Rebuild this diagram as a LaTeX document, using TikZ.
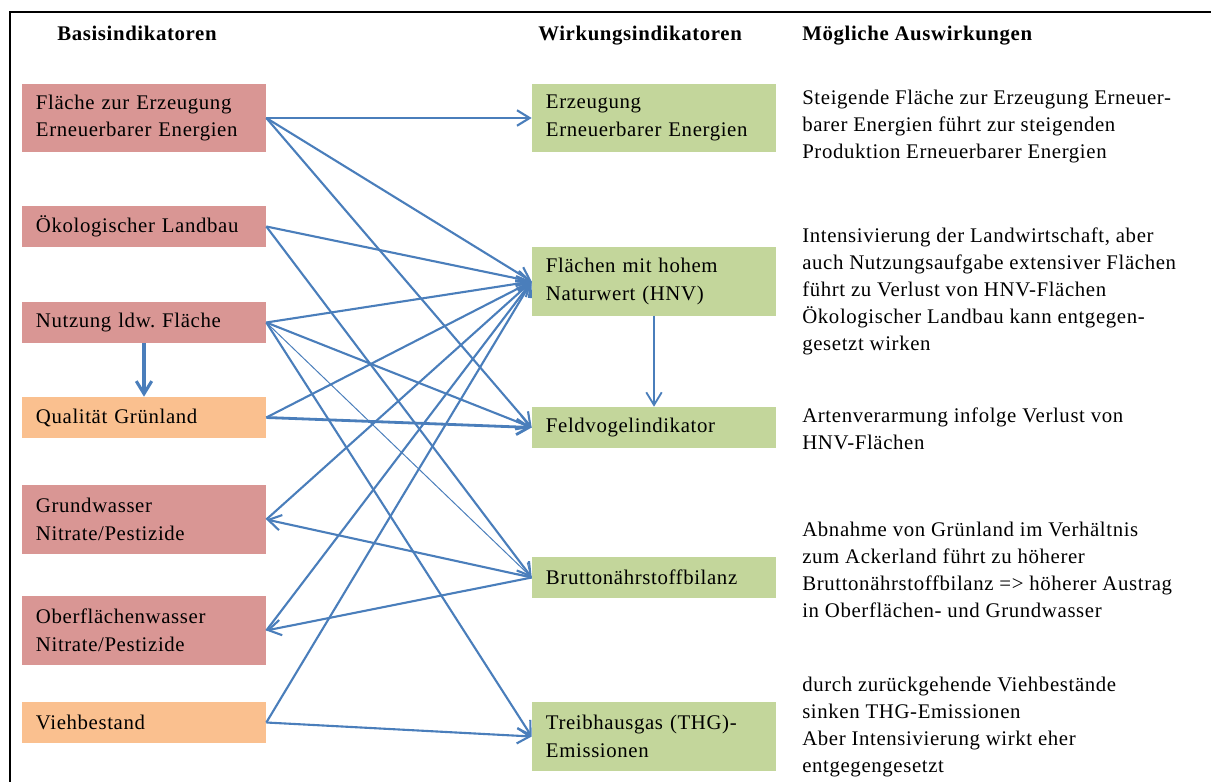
\documentclass[tikz,border=0pt]{standalone}
\usepackage{fontspec}
\setmainfont{Liberation Serif}[LetterSpace=3]
\frenchspacing
\usetikzlibrary{arrows.meta}
\definecolor{rotbox}{RGB}{217,150,148}
\definecolor{orangebox}{RGB}{250,192,143}
\definecolor{gruenbox}{RGB}{195,214,155}
\definecolor{pfeilblau}{RGB}{74,126,187}

\begin{document}
\begin{tikzpicture}[x=0.025cm, y=-0.025cm, >={Straight Barb[length=9pt,width=11pt]},
    kasten/.style={minimum width=6.1cm, text width=5.4cm, align=left, inner xsep=0.35cm,
        inner ysep=0pt, font=\fontsize{14.8}{19.8}\selectfont},
    einzeilig/.style={kasten, minimum height=1.025cm},
    zweizeilig/.style={kasten, minimum height=1.7cm},
    titel/.style={anchor=base west, inner sep=0pt, font=\fontsize{14.8}{19}\selectfont\bfseries},
    erklaerung/.style={anchor=north west, align=left, inner sep=0pt, font=\fontsize{14.8}{19.1}\selectfont},
    pfeil/.style={->, draw=pfeilblau, line width=1.5pt}]
    \useasboundingbox (0,0) rectangle (1211,782);
    \draw[line width=1.4pt] (1211,12) -- (10,12) -- (10,782);

    % Ueberschriften
    \node[titel] (t1) at (57,41) {Basisindikatoren};
    \node[titel] (t2) at (538,41) {Wirkungsindikatoren};
    \node[titel] (t3) at (802,41) {Mögliche Auswirkungen};

    % Basisindikatoren
    \node[zweizeilig, fill=rotbox] (b1) at (144,118) {Fläche zur Erzeugung\\Erneuerbarer Energien};
    \node[einzeilig, fill=rotbox] (b2) at (144,226.5) {Ökologischer Landbau};
    \node[einzeilig, fill=rotbox] (b3) at (144,322.5) {Nutzung ldw. Fläche};
    \node[einzeilig, fill=orangebox] (b4) at (144,417.5) {Qualität Grünland};
    \node[zweizeilig, fill=rotbox] (b5) at (144,519.5) {Grundwasser\\Nitrate/Pestizide};
    \node[zweizeilig, fill=rotbox] (b6) at (144,630.5) {Oberflächenwasser\\Nitrate/Pestizide};
    \node[einzeilig, fill=orangebox] (b7) at (144,722.5) {Viehbestand};

    % Wirkungsindikatoren
    \node[zweizeilig, fill=gruenbox] (w1) at (654,118) {Erzeugung\\Erneuerbarer Energien};
    \node[zweizeilig, fill=gruenbox] (w2) at (654,281.5) {Flächen mit hohem\\Naturwert (HNV)};
    \node[einzeilig, fill=gruenbox] (w3) at (654,427.5) {Feldvogelindikator};
    \node[einzeilig, fill=gruenbox] (w4) at (654,577.5) {Bruttonährstoffbilanz};
    \node[zweizeilig, fill=gruenbox, minimum height=1.725cm] (w5) at (654,736.5) {Treibhausgas (THG)-\\Emissionen};

    % Auswirkungen
    \node[erklaerung] (a1) at (802,90) {Steigende Fläche zur Erzeugung Erneuer-\\barer Energien führt zur steigenden\\Produktion Erneuerbarer Energien};
    \node[erklaerung] (a2) at (802,228) {Intensivierung der Landwirtschaft, aber\\auch Nutzungsaufgabe extensiver Flächen\\führt zu Verlust von HNV-Flächen\\Ökologischer Landbau kann entgegen-\\gesetzt wirken};
    \node[erklaerung] (a3) at (802,408) {Artenverarmung infolge Verlust von\\HNV-Flächen};
    \node[erklaerung] (a4) at (802,522) {Abnahme von Grünland im Verhältnis\\zum Ackerland führt zu höherer\\Bruttonährstoffbilanz => höherer Austrag\\in Oberflächen- und Grundwasser};
    \node[erklaerung] (a5) at (802,677) {durch zurückgehende Viehbestände\\sinken THG-Emissionen\\Aber Intensivierung wirkt eher\\entgegengesetzt};

    % Wirkungspfeile
    \foreach \q in {b1,b2,b3,b4,b5,b6,b7}
        \draw[pfeil] (\q.east) -- (w2.west);
    \draw[pfeil] (b1.east) -- (w1.west);
    \draw[pfeil] (b1.east) -- (w3.west);
    \draw[pfeil] (b2.east) -- (w4.west);
    \draw[pfeil] (b3.east) -- (w3.west);
    \draw[pfeil, line width=0.7pt] (b3.east) -- (w4.west);
    \draw[pfeil] (b3.east) -- (w5.west);
    \draw[pfeil, line width=2pt] (b4.east) -- (w3.west);
    \draw[pfeil] (b7.east) -- (w5.west);
    \draw[pfeil] (w4.west) -- (b5.east);
    \draw[pfeil] (w4.west) -- (b6.east);
    \draw[pfeil, line width=2.2pt] (b3.south) -- (b4.north);
    \draw[pfeil, line width=1.3pt] (w2.south) -- (w3.north);
\end{tikzpicture}
\end{document}
